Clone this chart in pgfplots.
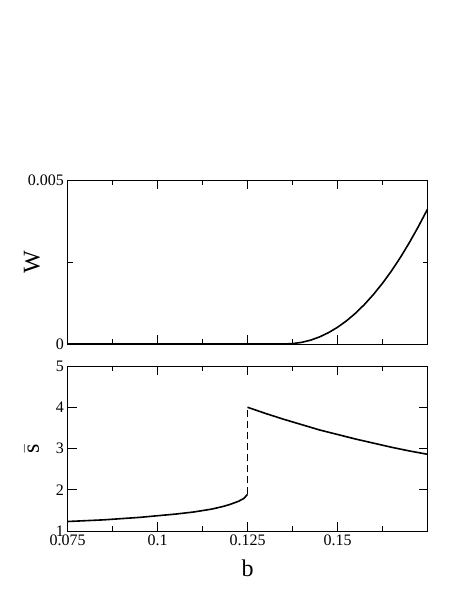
\documentclass[border=0pt]{standalone}
\usepackage{pgfplots}
\pgfplotsset{compat=1.18}
\usepackage{fontspec}
\setmainfont{Liberation Serif}
\begin{document}
\begin{tikzpicture}
\path[use as bounding box] (0,0) rectangle (463bp,599bp);
\pgfplotsset{
  common/.style={
    scale only axis,
    width=360bp,
    anchor=south west,
    xmin=0.075, xmax=0.175,
    xtick={0.075,0.1,0.125,0.15},
    minor xtick={0.0875,0.1125,0.1375,0.1625},
    tick align=inside,
    major tick length=9bp,
    minor tick length=5bp,
    every tick/.style={black, line width=0.8bp},
    axis line style={line width=0.9bp},
    /pgf/number format/assume math mode=true,
    tick label style={font=\fontsize{16bp}{18bp}\selectfont},
    label style={font=\fontsize{24bp}{28bp}\selectfont},
    ylabel style={at={(axis description cs:-0.099,0.5)}, anchor=center},
    scaled ticks=false,
  }
}
% ---- top panel: W ----
\begin{axis}[common,
  at={(67.5bp,255bp)}, height=164bp,
  ymin=0, ymax=0.005,
  ytick={0,0.005}, yticklabels={0,0.005},
  minor ytick={0.0025},
  xticklabels={},
  ylabel={W},
]
\addplot[black, line width=1.6bp] coordinates {
(0.075,0) (0.085,0) (0.095,0) (0.105,0) (0.115,0) (0.125,0) (0.130,0) (0.135,0)
(0.1375,0.0000112) (0.140,0.000049) (0.1425,0.000116) (0.145,0.000215)
(0.1475,0.000346) (0.150,0.000509) (0.1525,0.000707) (0.155,0.000938)
(0.1575,0.001207) (0.160,0.001512) (0.1625,0.001852) (0.165,0.002228)
(0.1675,0.002644) (0.170,0.003098) (0.1725,0.003587) (0.175,0.00411)
};
\end{axis}
% ---- bottom panel: s bar ----
\begin{axis}[common,
  at={(67.5bp,68bp)}, height=165bp,
  ymin=1, ymax=5,
  ytick={1,2,3,4,5},
  xticklabels={0.075,0.1,0.125,0.15},
  ylabel={\ensuremath{\bar{\mbox{s}}}},
  xlabel={b},
  xlabel style={at={(axis description cs:0.5,-0.224)}, anchor=center},
]
\addplot[black, line width=1.6bp] coordinates {
(0.075,1.23) (0.080,1.25) (0.085,1.27) (0.090,1.30) (0.095,1.33)
(0.100,1.37) (0.105,1.41) (0.110,1.46) (0.115,1.53) (0.118,1.59)
(0.120,1.64) (0.1225,1.72) (0.124,1.79) (0.125,1.89)
};
\addplot[black, line width=1.6bp, dash pattern=on 7bp off 4bp] coordinates {
(0.125,1.89) (0.125,4.0)
};
\addplot[black, line width=1.6bp] coordinates {
(0.125,4.0) (0.130,3.85) (0.135,3.71) (0.140,3.58) (0.145,3.45)
(0.150,3.34) (0.155,3.23) (0.160,3.13) (0.165,3.03) (0.170,2.94) (0.175,2.86)
};
\end{axis}
\end{tikzpicture}
\end{document}
